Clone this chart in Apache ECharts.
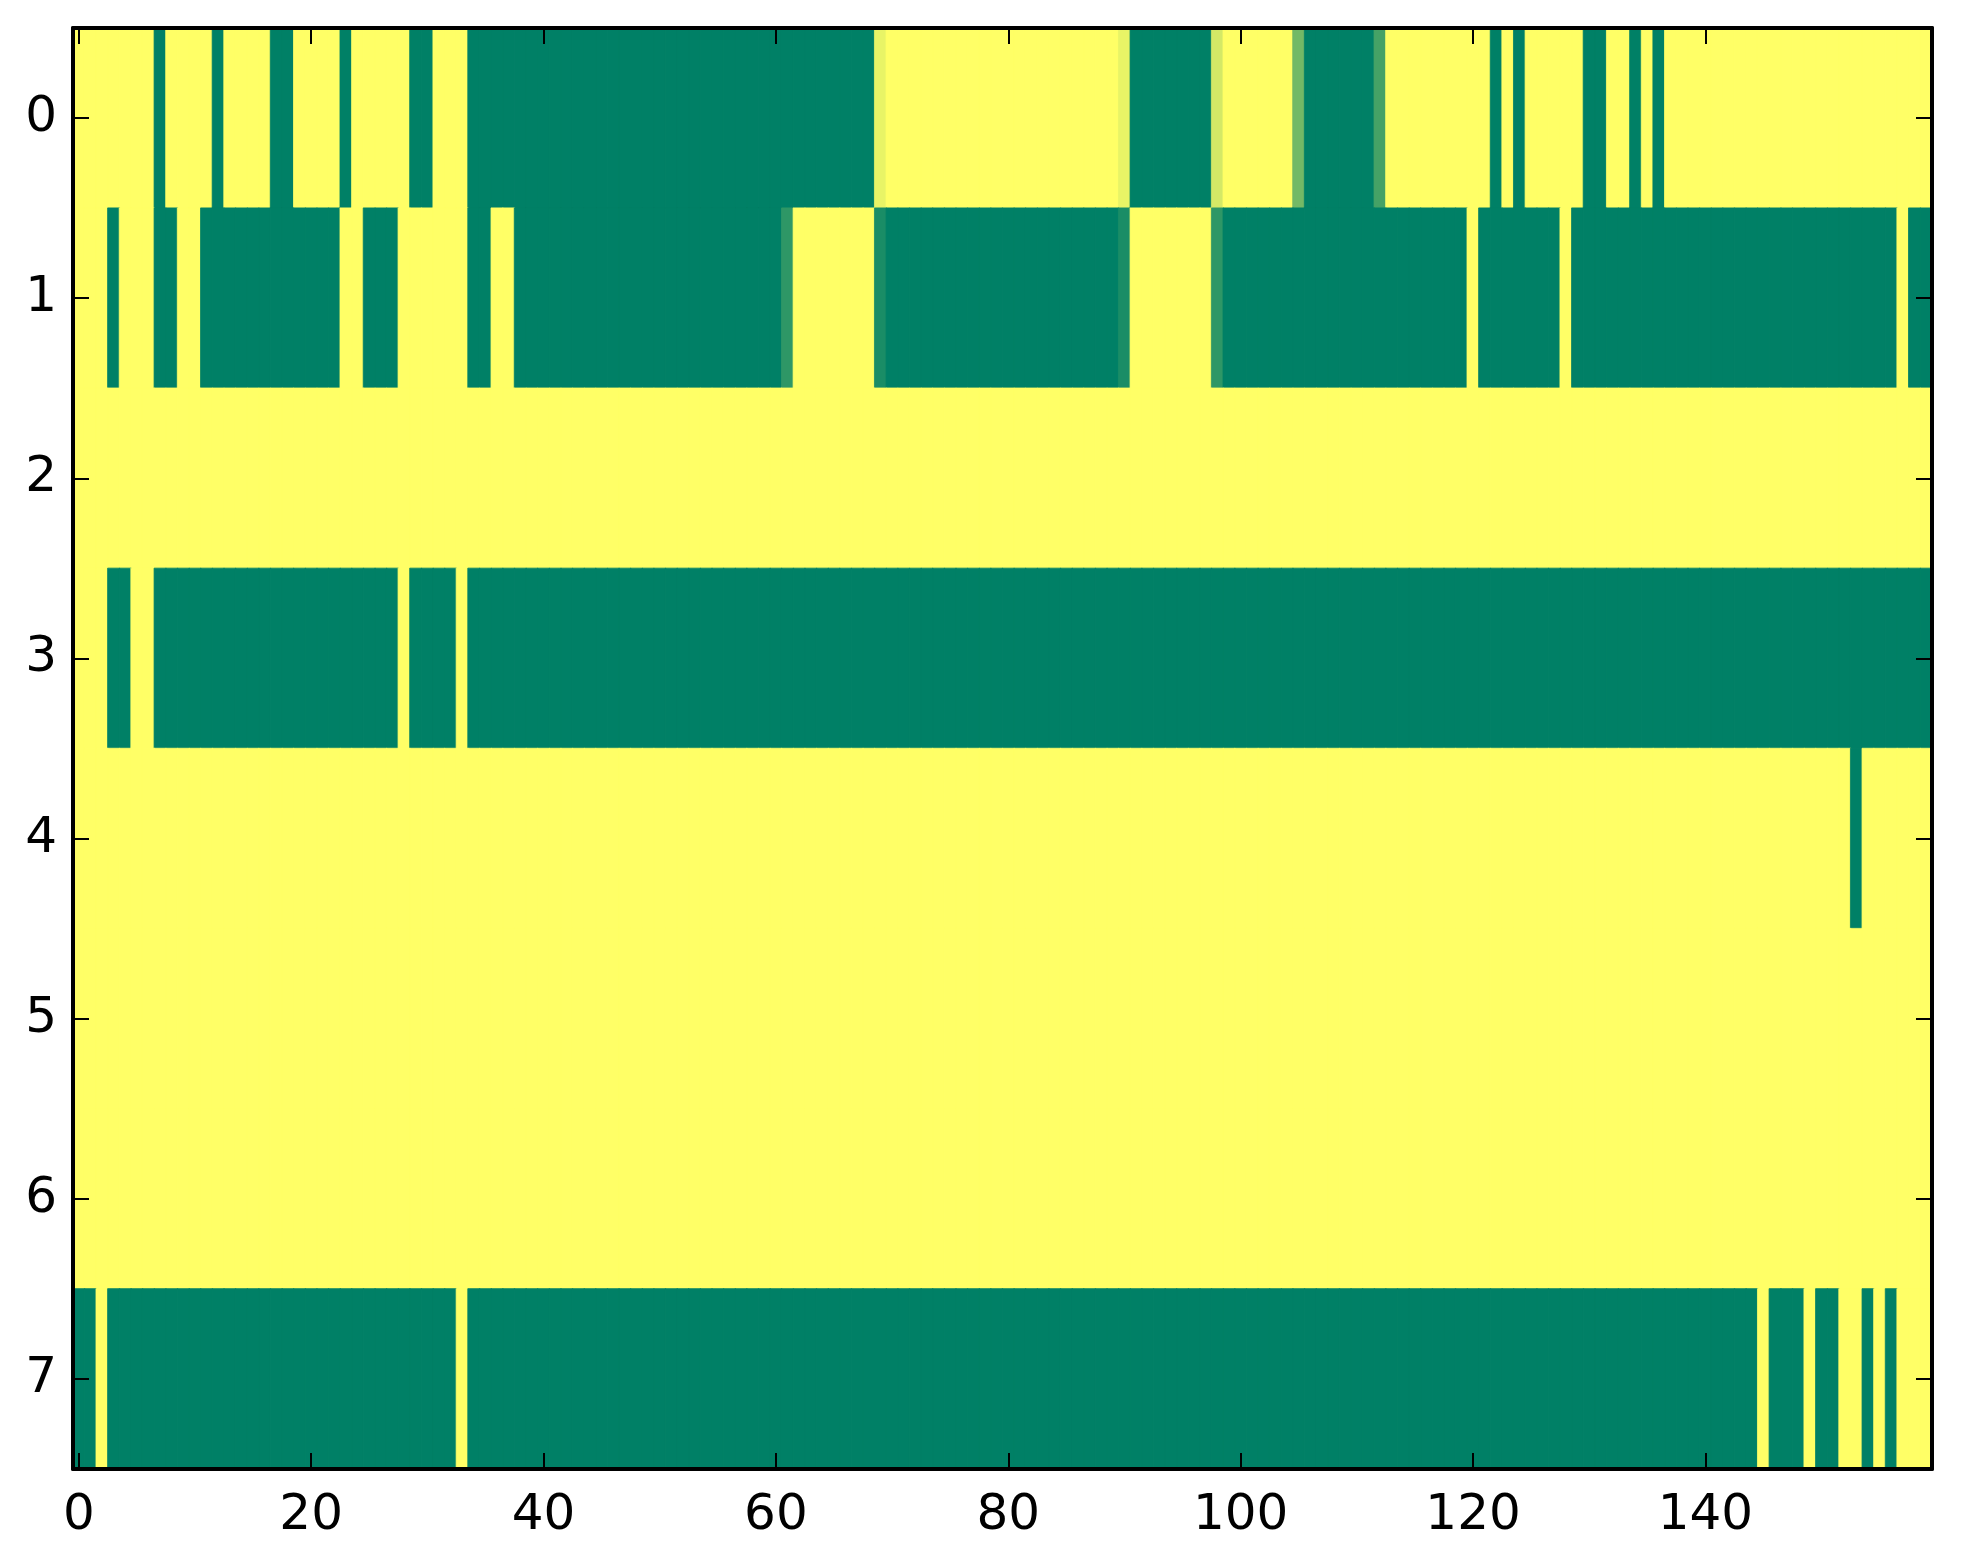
<!DOCTYPE html>
<html>
<head>
<meta charset="utf-8">
<script src="https://cdn.jsdelivr.net/npm/echarts@6/dist/echarts.min.js"></script>
<style>
  html, body { margin: 0; padding: 0; background: #ffffff; }
  #chart { width: 1963px; height: 1564px; }
</style>
</head>
<body>
<div id="chart"></div>
<script>
// column / row labels
const cols = [];
for (let i = 0; i < 160; i++) cols.push(String(i));
const rowLabels = ['0', '1', '2', '3', '4', '5', '6', '7'];

// cell values (0 = green, 1 = yellow), 20 per line
const row0 = [
  1, 1, 1, 1, 1, 1, 1, 0, 1, 1, 1, 1, 0, 1, 1, 1, 1, 0, 0, 1,
  1, 1, 1, 0, 1, 1, 1, 1, 1, 0, 0, 1, 1, 1, 0, 0, 0, 0, 0, 0,
  0, 0, 0, 0, 0, 0, 0, 0, 0, 0, 0, 0, 0, 0, 0, 0, 0, 0, 0, 0,
  0, 0, 0, 0, 0, 0, 0, 0, 0, 0.91, 1, 1, 1, 1, 1, 1, 1, 1, 1, 1,
  1, 1, 1, 1, 1, 1, 1, 1, 1, 1, 0.91, 0, 0, 0, 0, 0, 0, 0, 0.83, 1,
  1, 1, 1, 1, 1, 0.45, 0, 0, 0, 0, 0, 0, 0.27, 1, 1, 1, 1, 1, 1, 1,
  1, 1, 0, 1, 0, 1, 1, 1, 1, 1, 0, 0, 1, 1, 0, 1, 0, 1, 1, 1,
  1, 1, 1, 1, 1, 1, 1, 1, 1, 1, 1, 1, 1, 1, 1, 1, 1, 1, 1, 1
];
const row1 = [
  1, 1, 1, 0, 1, 1, 1, 0, 0, 1, 1, 0, 0, 0, 0, 0, 0, 0, 0, 0,
  0, 0, 0, 1, 1, 0, 0, 0, 1, 1, 1, 1, 1, 1, 0, 0, 1, 1, 0, 0,
  0, 0, 0, 0, 0, 0, 0, 0, 0, 0, 0, 0, 0, 0, 0, 0, 0, 0, 0, 0,
  0, 0.18, 1, 1, 1, 1, 1, 1, 1, 0.1, 0, 0, 0, 0, 0, 0, 0, 0, 0, 0,
  0, 0, 0, 0, 0, 0, 0, 0, 0, 0, 0.1, 1, 1, 1, 1, 1, 1, 1, 0.18, 0,
  0, 0, 0, 0, 0, 0, 0, 0, 0, 0, 0, 0, 0, 0, 0, 0, 0, 0, 0, 0,
  1, 0, 0, 0, 0, 0, 0, 0, 1, 0, 0, 0, 0, 0, 0, 0, 0, 0, 0, 0,
  0, 0, 0, 0, 0, 0, 0, 0, 0, 0, 0, 0, 0, 0, 0, 0, 0, 1, 0, 0
];
const row2 = [
  1, 1, 1, 1, 1, 1, 1, 1, 1, 1, 1, 1, 1, 1, 1, 1, 1, 1, 1, 1,
  1, 1, 1, 1, 1, 1, 1, 1, 1, 1, 1, 1, 1, 1, 1, 1, 1, 1, 1, 1,
  1, 1, 1, 1, 1, 1, 1, 1, 1, 1, 1, 1, 1, 1, 1, 1, 1, 1, 1, 1,
  1, 1, 1, 1, 1, 1, 1, 1, 1, 1, 1, 1, 1, 1, 1, 1, 1, 1, 1, 1,
  1, 1, 1, 1, 1, 1, 1, 1, 1, 1, 1, 1, 1, 1, 1, 1, 1, 1, 1, 1,
  1, 1, 1, 1, 1, 1, 1, 1, 1, 1, 1, 1, 1, 1, 1, 1, 1, 1, 1, 1,
  1, 1, 1, 1, 1, 1, 1, 1, 1, 1, 1, 1, 1, 1, 1, 1, 1, 1, 1, 1,
  1, 1, 1, 1, 1, 1, 1, 1, 1, 1, 1, 1, 1, 1, 1, 1, 1, 1, 1, 1
];
const row3 = [
  1, 1, 1, 0, 0, 1, 1, 0, 0, 0, 0, 0, 0, 0, 0, 0, 0, 0, 0, 0,
  0, 0, 0, 0, 0, 0, 0, 0, 1, 0, 0, 0, 0, 1, 0, 0, 0, 0, 0, 0,
  0, 0, 0, 0, 0, 0, 0, 0, 0, 0, 0, 0, 0, 0, 0, 0, 0, 0, 0, 0,
  0, 0, 0, 0, 0, 0, 0, 0, 0, 0, 0, 0, 0, 0, 0, 0, 0, 0, 0, 0,
  0, 0, 0, 0, 0, 0, 0, 0, 0, 0, 0, 0, 0, 0, 0, 0, 0, 0, 0, 0,
  0, 0, 0, 0, 0, 0, 0, 0, 0, 0, 0, 0, 0, 0, 0, 0, 0, 0, 0, 0,
  0, 0, 0, 0, 0, 0, 0, 0, 0, 0, 0, 0, 0, 0, 0, 0, 0, 0, 0, 0,
  0, 0, 0, 0, 0, 0, 0, 0, 0, 0, 0, 0, 0, 0, 0, 0, 0, 0, 0, 0
];
const row4 = [
  1, 1, 1, 1, 1, 1, 1, 1, 1, 1, 1, 1, 1, 1, 1, 1, 1, 1, 1, 1,
  1, 1, 1, 1, 1, 1, 1, 1, 1, 1, 1, 1, 1, 1, 1, 1, 1, 1, 1, 1,
  1, 1, 1, 1, 1, 1, 1, 1, 1, 1, 1, 1, 1, 1, 1, 1, 1, 1, 1, 1,
  1, 1, 1, 1, 1, 1, 1, 1, 1, 1, 1, 1, 1, 1, 1, 1, 1, 1, 1, 1,
  1, 1, 1, 1, 1, 1, 1, 1, 1, 1, 1, 1, 1, 1, 1, 1, 1, 1, 1, 1,
  1, 1, 1, 1, 1, 1, 1, 1, 1, 1, 1, 1, 1, 1, 1, 1, 1, 1, 1, 1,
  1, 1, 1, 1, 1, 1, 1, 1, 1, 1, 1, 1, 1, 1, 1, 1, 1, 1, 1, 1,
  1, 1, 1, 1, 1, 1, 1, 1, 1, 1, 1, 1, 1, 0, 1, 1, 1, 1, 1, 1
];
const row5 = row2.slice();
const row6 = row2.slice();
const row7 = [
  0, 0, 1, 0, 0, 0, 0, 0, 0, 0, 0, 0, 0, 0, 0, 0, 0, 0, 0, 0,
  0, 0, 0, 0, 0, 0, 0, 0, 0, 0, 0, 0, 0, 1, 0, 0, 0, 0, 0, 0,
  0, 0, 0, 0, 0, 0, 0, 0, 0, 0, 0, 0, 0, 0, 0, 0, 0, 0, 0, 0,
  0, 0, 0, 0, 0, 0, 0, 0, 0, 0, 0, 0, 0, 0, 0, 0, 0, 0, 0, 0,
  0, 0, 0, 0, 0, 0, 0, 0, 0, 0, 0, 0, 0, 0, 0, 0, 0, 0, 0, 0,
  0, 0, 0, 0, 0, 0, 0, 0, 0, 0, 0, 0, 0, 0, 0, 0, 0, 0, 0, 0,
  0, 0, 0, 0, 0, 0, 0, 0, 0, 0, 0, 0, 0, 0, 0, 0, 0, 0, 0, 0,
  0, 0, 0, 0, 0, 1, 0, 0, 0, 1, 0, 0, 1, 1, 0, 1, 0, 1, 1, 1
];
const rows = [row0, row1, row2, row3, row4, row5, row6, row7];

// summer colormap ends
const cmap = ['#008066', '#ffff66'];

// build heatmap items; border in the same colour hides the seams between cells
let cells = [];
rows.forEach(function (r, y) {
  r.forEach(function (v, x) {
    let c = echarts.color.lerp(v, cmap);
    cells.push({ value: [x, y, v], itemStyle: { color: c, borderColor: c, borderWidth: 0.8 } });
  });
});

const every20 = function (i) { return i % 20 === 0; };
const font = 'DejaVu Sans';

const tickX = {
  show: true, inside: true, length: 16, interval: every20, alignWithLabel: true,
  lineStyle: { color: '#000', width: 2 }
};
const tickY = {
  show: true, inside: true, length: 16, alignWithLabel: true,
  lineStyle: { color: '#000', width: 2 }
};
const line = { show: true, onZero: false, lineStyle: { color: '#000', width: 4 } };

let chart = echarts.init(document.getElementById('chart'), null, { renderer: 'canvas' });
chart.setOption({
  animation: false,
  backgroundColor: '#ffffff',
  grid: { left: 73, right: 31, top: 28, bottom: 95, containLabel: false },
  xAxis: [
    {
      type: 'category', data: cols, position: 'bottom', z: 10,
      axisLine: line, axisTick: tickX, splitLine: { show: false },
      axisLabel: { interval: every20, color: '#000', fontSize: 50, fontFamily: font, margin: 22 }
    },
    {
      type: 'category', data: cols, position: 'top', z: 10,
      axisLine: line, axisTick: tickX, splitLine: { show: false },
      axisLabel: { show: false }
    }
  ],
  yAxis: [
    {
      type: 'category', data: rowLabels, inverse: true, position: 'left', z: 10,
      axisLine: line, axisTick: tickY, splitLine: { show: false },
      axisLabel: { color: '#000', fontSize: 50, fontFamily: font, margin: 16 }
    },
    {
      type: 'category', data: rowLabels, inverse: true, position: 'right', z: 10,
      axisLine: line, axisTick: tickY, splitLine: { show: false },
      axisLabel: { show: false }
    }
  ],
  series: [{
    type: 'heatmap',
    xAxisIndex: 0,
    yAxisIndex: 0,
    data: cells,
    progressive: 0,
    emphasis: { disabled: true },
    z: 1
  }]
});
</script>
</body>
</html>
